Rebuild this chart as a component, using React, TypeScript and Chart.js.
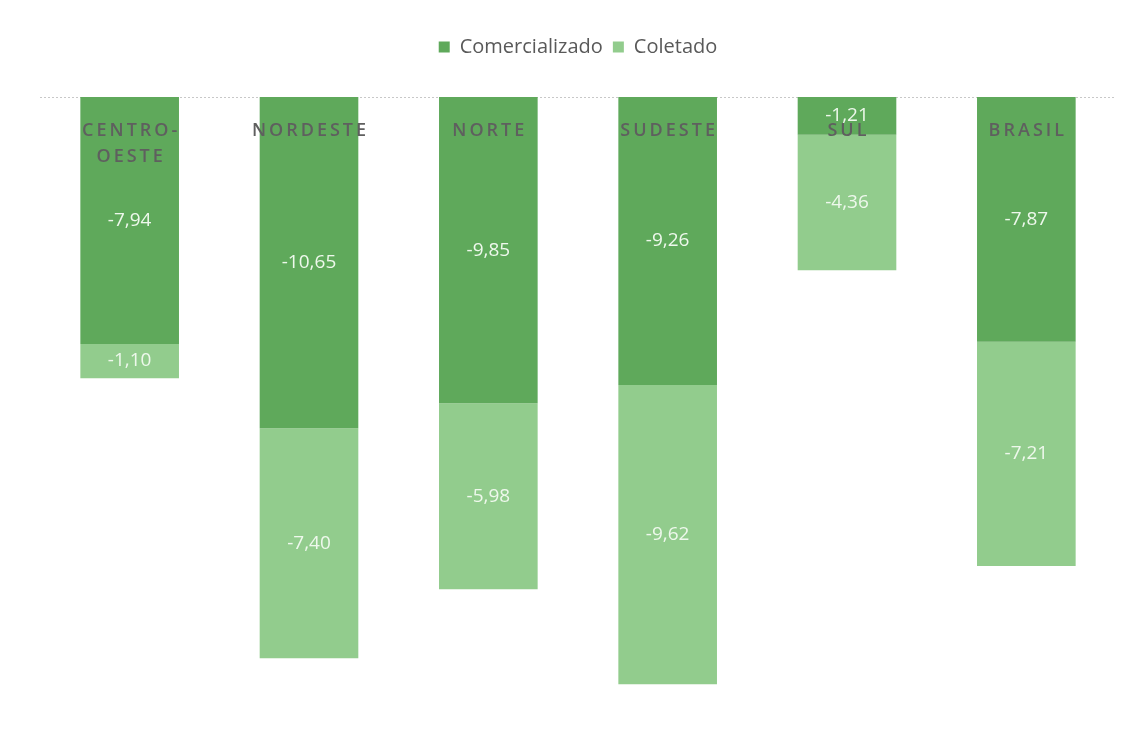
import React, { useEffect, useRef } from "react";
import { Chart, registerables } from "chart.js";

Chart.register(...registerables);

const categories: string[][] = [["CENTRO-", "OESTE"], ["NORDESTE"], ["NORTE"], ["SUDESTE"], ["SUL"], ["BRASIL"]];
const comercializado = [-7.94, -10.65, -9.85, -9.26, -1.21, -7.87];
const coletado = [-1.1, -7.4, -5.98, -9.62, -4.36, -7.21];
const seriesNames = ["Comercializado", "Coletado"];

const DARK = "#5fa95b";
const LIGHT = "#92cc8d";
const FONT = "'Open Sans', 'Noto Sans', sans-serif";

const fmt = (v: number) => v.toFixed(2).replace(".", ",");

const overlay = {
  id: "overlay",
  beforeDatasetsDraw(chart: any) {
    const { ctx, chartArea } = chart;
    const y0 = chart.scales.y.getPixelForValue(0);
    ctx.save();
    ctx.strokeStyle = "#c8c8c8";
    ctx.lineWidth = 1;
    ctx.setLineDash([2, 2]);
    ctx.beginPath();
    ctx.moveTo(chartArea.left, y0 + 0.5);
    ctx.lineTo(chartArea.right, y0 + 0.5);
    ctx.stroke();
    ctx.restore();
  },
  afterDatasetsDraw(chart: any) {
    const { ctx } = chart;
    ctx.save();
    ctx.textAlign = "center";
    ctx.textBaseline = "middle";
    ctx.font = `19px ${FONT}`;
    ctx.fillStyle = "#eef8ec";
    chart.data.datasets.forEach((ds: any, di: number) => {
      const meta = chart.getDatasetMeta(di);
      meta.data.forEach((bar: any, i: number) => {
        const top = Math.min(bar.y, bar.base);
        const bot = Math.max(bar.y, bar.base);
        ctx.fillText(fmt(ds.data[i]), bar.x, (top + bot) / 2);
      });
    });
    // category names at top of bars
    ctx.font = `600 18px ${FONT}`;
    (ctx as any).letterSpacing = "3px";
    ctx.fillStyle = "#5f5f5f";
    const meta0 = chart.getDatasetMeta(0);
    categories.forEach((lines, i) => {
      const bar = meta0.data[i];
      lines.forEach((t, li) => {
        ctx.fillText(t, bar.x + 1.5, 123 + li * 26);
      });
    });
    ctx.restore();
  },
};

export default function App() {
  const ref = useRef<HTMLCanvasElement>(null);
  useEffect(() => {
    if (!ref.current) return;
    const chart = new Chart(ref.current, {
      type: "bar",
      data: {
        labels: categories.map((c) => c.join("")),
        datasets: [
          { label: seriesNames[0], data: comercializado, backgroundColor: DARK, barPercentage: 0.55, categoryPercentage: 1 },
          { label: seriesNames[1], data: coletado, backgroundColor: LIGHT, barPercentage: 0.55, categoryPercentage: 1 },
        ],
      },
      options: {
        animation: false,
        responsive: true,
        maintainAspectRatio: false,
        layout: { padding: { top: 19, left: 32, right: 9, bottom: 17 } },
        plugins: {
          legend: {
            position: "top",
            labels: {
              boxWidth: 11,
              boxHeight: 11,
              padding: 10,
              color: "#595959",
              font: { size: 20, family: FONT },
            },
          },
          tooltip: { enabled: false },
        },
        scales: {
          x: {
            stacked: true,
            position: "top",
            grid: { display: false },
            border: { display: false },
            ticks: { display: false },
            afterFit: (scale: any) => {
              scale.height = 30;
            },
          },
          y: {
            stacked: true,
            display: false,
            min: -20,
            max: 0,
          },
        },
      },
      plugins: [overlay],
    });
    return () => chart.destroy();
  }, []);
  return (
    <div style={{ width: 1117, height: 728, position: "relative" }}>
      <canvas ref={ref} />
    </div>
  );
}
